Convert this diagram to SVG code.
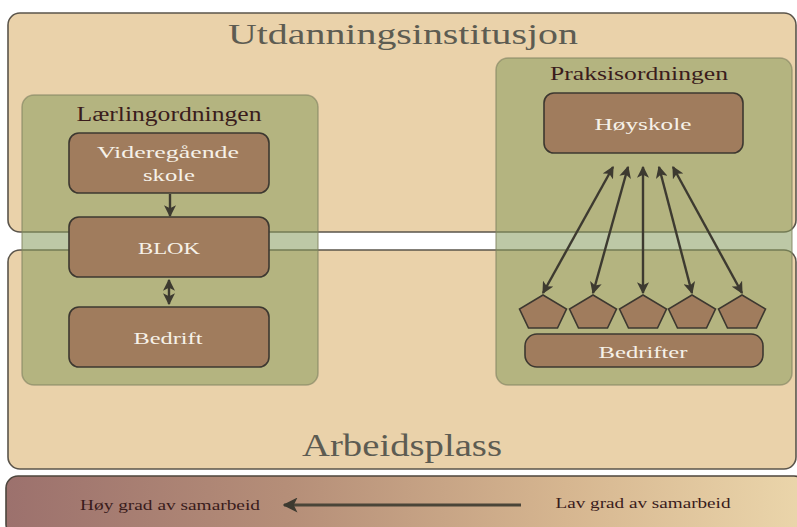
<svg xmlns="http://www.w3.org/2000/svg" width="797" height="527" viewBox="0 0 797 527">
<defs>
<style>
.area{fill:#ead2aa;stroke:#5b554b;stroke-width:1.6}
.grp{fill:#869b5c;fill-opacity:0.55;stroke:#7f8060;stroke-opacity:0.6;stroke-width:1.5}
.node{fill:#a07c5d;stroke:#3d3830;stroke-width:1.6}
.big{font-family:"Liberation Serif","DejaVu Serif",serif;fill:#5d5c52;text-anchor:middle}
.lbl{font-family:"Liberation Serif","DejaVu Serif",serif;fill:#3a1c1c;text-anchor:middle}
.nt{font-family:"Liberation Serif","DejaVu Serif",serif;fill:#f6f1e8;text-anchor:middle;font-size:17px}
.con{stroke:#3d3a30;stroke-width:2.4;fill:none}
</style>
<linearGradient id="bar" x1="0" y1="0" x2="1" y2="0">
<stop offset="0" stop-color="#9c716d"/>
<stop offset="0.35" stop-color="#b58e78"/>
<stop offset="0.7" stop-color="#d6b690"/>
<stop offset="1" stop-color="#ebd6ab"/>
</linearGradient>
<marker id="ah" viewBox="0 0 10 10" refX="9" refY="5" markerWidth="5" markerHeight="5" orient="auto-start-reverse" markerUnits="strokeWidth">
<path d="M0,0 L10,5 L0,10 L2.5,5 z" fill="#3d3a30"/>
</marker>
</defs>

<g id="utdanningsinstitusjon">
<rect class="area" x="8" y="13" width="788" height="219" rx="12"/>
<text class="big" x="403" y="44" font-size="29" textLength="350" lengthAdjust="spacingAndGlyphs">Utdanningsinstitusjon</text>
</g>
<g id="arbeidsplass">
<rect class="area" x="8" y="250" width="788" height="219" rx="12"/>
<text class="big" x="402" y="456" font-size="32" textLength="200" lengthAdjust="spacingAndGlyphs">Arbeidsplass</text>
</g>
<g id="samarbeid">
<rect x="6" y="476" width="800" height="60" rx="12" fill="url(#bar)" stroke="#4d463d" stroke-width="1.6"/>
<text class="lbl" x="170" y="510" font-size="15.5" textLength="180" lengthAdjust="spacingAndGlyphs">Høy grad av samarbeid</text>
<text class="lbl" x="643" y="508" font-size="15.5" textLength="175" lengthAdjust="spacingAndGlyphs">Lav grad av samarbeid</text>
</g>

<g id="laerlingordningen">
<rect class="grp" x="22" y="95" width="296" height="290" rx="12"/>
<text class="lbl" x="169" y="121" font-size="20" textLength="185" lengthAdjust="spacingAndGlyphs">Lærlingordningen</text>
</g>
<g id="praksisordningen">
<rect class="grp" x="496" y="58" width="296" height="327" rx="12"/>
<text class="lbl" x="639" y="80" font-size="19" textLength="178" lengthAdjust="spacingAndGlyphs">Praksisordningen</text>
</g>

<g id="videregaende">
<rect class="node" x="69" y="133" width="200" height="60" rx="10"/>
<text class="nt" x="168" y="158" textLength="142" lengthAdjust="spacingAndGlyphs">Videregående</text>
<text class="nt" x="169" y="181" textLength="52" lengthAdjust="spacingAndGlyphs">skole</text>
</g>
<g id="blok">
<rect class="node" x="69" y="217" width="200" height="60" rx="10"/>
<text class="nt" x="169" y="254" font-size="18" textLength="62" lengthAdjust="spacingAndGlyphs">BLOK</text>
</g>
<g id="bedrift">
<rect class="node" x="69" y="307" width="200" height="60" rx="10"/>
<text class="nt" x="168" y="344" font-size="18" textLength="69" lengthAdjust="spacingAndGlyphs">Bedrift</text>
</g>
<g id="hoyskole">
<rect class="node" x="544" y="93" width="199" height="60" rx="10"/>
<text class="nt" x="643" y="130" font-size="18" textLength="97" lengthAdjust="spacingAndGlyphs">Høyskole</text>
</g>
<g id="bedrifter">
<rect class="node" x="525" y="334" width="238" height="33" rx="12"/>
<text class="nt" x="643" y="358" font-size="18" textLength="89" lengthAdjust="spacingAndGlyphs">Bedrifter</text>
</g>
<g id="bedrift-1"><polygon class="node" points="543,295 566.5,309 557.5,328 528.5,328 519.5,309"/></g>
<g id="bedrift-2"><polygon class="node" points="593,295 616.5,309 607.5,328 578.5,328 569.5,309"/></g>
<g id="bedrift-3"><polygon class="node" points="643,295 666.5,309 657.5,328 628.5,328 619.5,309"/></g>
<g id="bedrift-4"><polygon class="node" points="692,295 715.5,309 706.5,328 677.5,328 668.5,309"/></g>
<g id="bedrift-5"><polygon class="node" points="742,295 765.5,309 756.5,328 727.5,328 718.5,309"/></g>

<g id="connectors">
<line class="con" x1="170" y1="194" x2="170" y2="216" marker-end="url(#ah)"/>
<line class="con" x1="169" y1="280" x2="169" y2="304" marker-start="url(#ah)" marker-end="url(#ah)"/>
<line class="con" x1="613" y1="167" x2="543" y2="293" marker-start="url(#ah)" marker-end="url(#ah)"/>
<line class="con" x1="628" y1="167" x2="593" y2="293" marker-start="url(#ah)" marker-end="url(#ah)"/>
<line class="con" x1="643" y1="167" x2="643" y2="293" marker-start="url(#ah)" marker-end="url(#ah)"/>
<line class="con" x1="659" y1="167" x2="692" y2="293" marker-start="url(#ah)" marker-end="url(#ah)"/>
<line class="con" x1="673" y1="167" x2="742" y2="293" marker-start="url(#ah)" marker-end="url(#ah)"/>
<line x1="521" y1="505" x2="284" y2="505" stroke="#4a4538" stroke-width="3" marker-end="url(#ah)"/>
</g>
</svg>
